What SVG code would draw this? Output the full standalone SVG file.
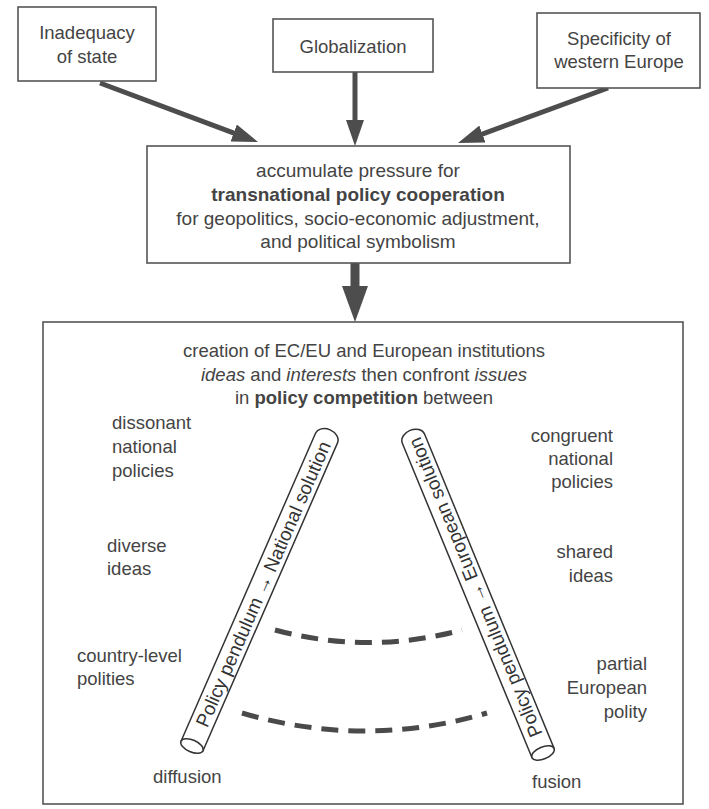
<svg xmlns="http://www.w3.org/2000/svg" width="709" height="809" viewBox="0 0 709 809">
<defs>
<style>
.box{fill:#fff;stroke:#555;stroke-width:1.6}
.t{font-family:"Liberation Sans",Arial,sans-serif;font-size:18.5px;fill:#444}
.m{font-size:19px}
.c{text-anchor:middle}
.r{text-anchor:end}
.b{font-weight:bold}
.i{font-style:italic}
.arr{stroke:#4d4d4d;stroke-width:5;fill:none}
.big{stroke:#4d4d4d;stroke-width:9;fill:none}
.tube{fill:#fff;stroke:#333;stroke-width:1.5}
.tt{font-family:"Liberation Sans",Arial,sans-serif;font-size:19px;fill:#333}
.dash{stroke:#4a4a4a;stroke-width:5;fill:none;stroke-dasharray:17 10}
</style>
<marker id="head" markerUnits="userSpaceOnUse" markerWidth="26" markerHeight="18" refX="11" refY="9" orient="auto">
<path d="M0,0 L26,9 L0,18 z" fill="#4d4d4d"/>
</marker>
<marker id="bighead" markerUnits="userSpaceOnUse" markerWidth="36" markerHeight="26" refX="16" refY="13" orient="auto">
<path d="M0,0 L36,13 L0,26 z" fill="#4d4d4d"/>
</marker>
</defs>
<rect width="709" height="809" fill="#fff"/>

<g id="connectors">
<line class="arr" x1="100" y1="83" x2="244" y2="136.8" marker-end="url(#head)"/>
<line class="arr" x1="355" y1="72" x2="355" y2="131" marker-end="url(#head)"/>
<line class="arr" x1="608" y1="88" x2="472.1" y2="137.8" marker-end="url(#head)"/>
<line class="big" x1="355" y1="263" x2="355" y2="302" marker-end="url(#bighead)"/>
</g>

<g id="inadequacy">
<rect class="box" x="18" y="7" width="138" height="74"/>
<text class="t c" x="87" y="39">Inadequacy</text>
<text class="t c" x="87" y="63">of state</text>
</g>

<g id="globalization">
<rect class="box" x="273" y="19" width="160" height="53"/>
<text class="t c" x="353" y="53">Globalization</text>
</g>

<g id="specificity">
<rect class="box" x="537" y="13" width="163" height="75"/>
<text class="t c" x="619" y="45">Specificity of</text>
<text class="t c" x="619" y="68">western Europe</text>
</g>

<g id="pressure">
<rect class="box" x="147" y="146" width="423" height="117"/>
<text class="t m c" x="358" y="177">accumulate pressure for</text>
<text class="t m c b" x="358" y="201">transnational policy cooperation</text>
<text class="t m c" x="358" y="225">for geopolitics, socio-economic adjustment,</text>
<text class="t m c" x="358" y="248">and political symbolism</text>
</g>

<g id="competition">
<rect class="box" x="43" y="322" width="640" height="482"/>
<text class="t c" x="364" y="357">creation of EC/EU and European institutions</text>
<text class="t c" x="364" y="381"><tspan class="i">ideas</tspan> and <tspan class="i">interests</tspan> then confront <tspan class="i">issues</tspan></text>
<text class="t c" x="364" y="404">in <tspan class="b">policy competition</tspan> between</text>

<text class="t" x="112" y="429">dissonant</text>
<text class="t" x="112" y="453">national</text>
<text class="t" x="112" y="477">policies</text>
<text class="t" x="107" y="552">diverse</text>
<text class="t" x="107" y="575">ideas</text>
<text class="t" x="77" y="662">country-level</text>
<text class="t" x="77" y="685">polities</text>
<text class="t" x="153" y="783">diffusion</text>

<text class="t r" x="613" y="442">congruent</text>
<text class="t r" x="613" y="465">national</text>
<text class="t r" x="613" y="488">policies</text>
<text class="t r" x="613" y="558">shared</text>
<text class="t r" x="613" y="582">ideas</text>
<text class="t r" x="647" y="670">partial</text>
<text class="t r" x="647" y="694">European</text>
<text class="t r" x="647" y="718">polity</text>
<text class="t" x="532" y="788">fusion</text>
</g>

<g id="tube-national" transform="translate(192,746) rotate(-66.4)">
<path class="tube" d="M0,-12 L336,-12 A9,12 0 0 1 336,12 L0,12 Z"/>
<ellipse class="tube" cx="0" cy="0" rx="6" ry="12"/>
<text class="tt c" x="177" y="7">Policy pendulum → National solution</text>
</g>

<g id="tube-european" transform="translate(543,753) rotate(-112.4)">
<path class="tube" d="M0,-12 L340,-12 A9,12 0 0 1 340,12 L0,12 Z"/>
<ellipse class="tube" cx="0" cy="0" rx="6" ry="12"/>
<text class="tt c" x="179" y="7">Policy pendulum → European solution</text>
</g>

<g id="dashes">
<path class="dash" d="M275,630 Q368,655 462,630"/>
<path class="dash" d="M242,713 Q365,749 487,713"/>
</g>
</svg>
